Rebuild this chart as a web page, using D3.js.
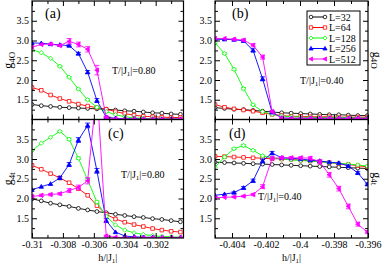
<!DOCTYPE html>
<html><head><meta charset="utf-8">
<script src="https://cdn.jsdelivr.net/npm/d3@7"></script>
<style>body{margin:0;background:#fff}svg{display:block}text{font-family:"Liberation Serif","Times New Roman",serif;fill:#000}</style>
</head><body><svg id="c" width="385" height="264"></svg>
<script>
const seriesNames = ["L=32","L=64","L=128","L=256","L=512"];
const colors = ["#000000","#ff0000","#00ff00","#0000ff","#ff00ff"];
const symbols = ["circle","square","diamond","triUp","triLeft"];

const xLeft = [-0.31,-0.3094,-0.3088,-0.3082,-0.3076,-0.307,-0.3064,-0.3058,-0.3052,-0.3046,-0.304,-0.3034,-0.3028,-0.3022,-0.3016,-0.301,-0.3004];
const xRight = [-0.405,-0.40444,-0.40388,-0.40332,-0.40276,-0.4022,-0.40164,-0.40108,-0.40052,-0.39996,-0.3994,-0.39884,-0.39828,-0.39772,-0.39716,-0.3966,-0.39604];

const yTicks = [1.5,2,2.5,3,3.5];
const yMinor = [1.25,1.75,2.25,2.75,3.25,3.75];
const xTicksLeft = [-0.31,-0.308,-0.306,-0.304,-0.302];
const xMinorLeft = [-0.309,-0.307,-0.305,-0.303,-0.301];
const xTicksRight = [-0.404,-0.402,-0.4,-0.398,-0.396];
const xMinorRight = [-0.405,-0.403,-0.401,-0.399,-0.397];

// panel (a): g4O, T=0.80
const a32  = [1.38,1.35,1.33,1.31,1.30,1.29,1.28,1.27,1.26,1.24,1.22,1.21,1.19,1.17,1.16,1.14,1.13];
const a64  = [1.81,1.74,1.62,1.53,1.46,1.39,1.34,1.30,1.26,1.20,1.15,1.11,1.08,1.07,1.06,1.05,1.05];
const a128 = [2.77,2.69,2.55,2.35,2.07,1.77,1.50,1.31,1.20,1.12,1.07,1.04,1.03,1.02,1.02,1.01,1.01];
const a256 = [2.94,2.93,2.91,2.89,2.87,2.67,2.20,1.48,1.06,1.03,1.02,1.02,1.01,1.01,1.01,1.01,1.01];
const a512 = [2.83,2.90,2.91,2.87,2.98,2.90,2.78,2.25,1.05,1.02,1.01,1.01,1.01,1.01,1.01,1.01,1.01];
const a128err = [0,0,0,0.02,0.02,0.02,0.02,0.02,0,0,0,0,0,0,0,0,0];
const a256err = [0,0,0,0,0.02,0.03,0.04,0.05,0.02,0,0,0,0,0,0,0,0];
const a512err = [0,0,0.02,0.02,0.07,0.06,0.07,0.12,0.02,0,0,0,0,0,0,0,0];

// panel (b): g4O, T=0.40
const b32  = [1.30,1.28,1.26,1.25,1.23,1.21,1.19,1.17,1.16,1.15,1.14,1.13,1.12,1.12,1.11,1.10,1.10];
const b64  = [1.38,1.31,1.27,1.24,1.21,1.17,1.13,1.10,1.08,1.08,1.07,1.07,1.07,1.06,1.06,1.06,1.06];
const b128 = [2.94,2.67,2.27,1.78,1.37,1.20,1.13,1.09,1.07,1.06,1.05,1.05,1.05,1.05,1.05,1.04,1.04];
const b256 = [3.03,3.03,3.02,2.99,2.75,2.03,1.18,1.04,1.03,1.03,1.03,1.03,1.03,1.03,1.03,1.03,1.03];
const b512 = [3.05,3.05,3.03,3.01,2.88,2.58,1.20,1.04,1.03,1.03,1.03,1.03,1.03,1.03,1.03,1.03,1.03];
const b128err = [0,0.02,0.03,0.03,0.02,0,0,0,0,0,0,0,0,0,0,0,0];
const b256err = [0,0,0,0.02,0.04,0.05,0.03,0,0,0,0,0,0,0,0,0,0];
const b512err = [0,0,0.02,0.03,0.04,0.05,0.03,0,0,0,0,0,0,0,0,0,0];

// panel (c): g4t, T=0.80
const c32  = [1.99,1.94,1.88,1.84,1.80,1.75,1.71,1.67,1.64,1.60,1.57,1.54,1.52,1.49,1.47,1.44,1.41];
const c64  = [2.84,2.74,2.63,2.52,2.40,2.25,2.08,1.82,1.60,1.48,1.40,1.34,1.29,1.24,1.20,1.17,1.15];
const c128 = [3.21,3.40,3.55,3.70,3.50,3.02,2.47,1.91,1.55,1.33,1.20,1.13,1.09,1.06,1.04,1.03,1.02];
const c256 = [2.22,2.30,2.37,2.52,2.86,3.48,3.85,2.70,1.44,1.15,1.05,1.03,1.02,1.02,1.01,1.01,1.01];
const c512 = [2.05,2.08,2.10,2.12,2.20,2.28,2.45,4.80,1.05,1.02,1.01,1.01,1.01,1.01,1.01,1.01,1.01];
const c128err = [0,0,0,0.02,0.03,0.03,0.03,0.03,0.02,0,0,0,0,0,0,0,0];
const c256err = [0,0,0,0.04,0.05,0.06,0.06,0.06,0.05,0,0,0,0,0,0,0,0];
const c512err = [0.03,0.03,0.03,0.03,0.05,0.06,0.08,0.2,0.02,0,0,0,0,0,0,0,0];

// panel (d): g4t, T=0.40
const d32  = [2.92,2.91,2.90,2.89,2.88,2.87,2.86,2.85,2.84,2.83,2.82,2.81,2.80,2.79,2.78,2.77,2.76];
const d64  = [3.07,3.06,3.05,3.04,3.03,3.02,3.01,3.00,2.99,2.97,2.95,2.93,2.91,2.88,2.86,2.83,2.80];
const d128 = [2.79,3.05,3.26,3.34,3.22,3.08,3.03,3.00,2.98,2.96,2.95,2.93,2.91,2.89,2.87,2.85,2.82];
const d256 = [2.08,2.11,2.15,2.27,2.45,2.95,3.15,3.03,3.02,3.00,2.97,2.95,2.92,2.90,2.82,2.65,2.36];
const d512 = [2.02,2.03,2.04,2.06,2.10,2.30,3.02,3.03,3.03,3.03,3.02,2.93,2.60,2.25,1.80,1.35,1.15];
const d128err = [0,0.02,0.02,0.03,0.02,0.02,0,0,0,0,0,0,0,0,0,0,0];
const d256err = [0,0,0.02,0.03,0.04,0.05,0.04,0,0,0,0,0,0,0,0.03,0.03,0.03];
const d512err = [0,0,0.02,0.02,0.03,0.05,0.04,0.03,0.03,0.03,0.04,0.05,0.06,0.06,0.06,0.05,0.04];

const xDomLeft = [-0.31,-0.3002];
const xDomRight = [-0.405,-0.396];
const yDom = [1,4];

const svg = d3.select("#c");
const L = {lx0:32, lx1:183.5, rx0:215, rx1:368, ty0:1, ty1:119.5, by0:119.5, by1:238};

const panels = [
  {id:"a", x:xLeft, xd:xDomLeft, px:[L.lx0,L.lx1], py:[L.ty0,L.ty1], data:[a32,a64,a128,a256,a512], err:[null,null,a128err,a256err,a512err],
   xt:xTicksLeft, xm:xMinorLeft, xlab:false, letter:"(a)", lp:[45,18], temp:"0.80", tp:[112,74], ylab:"4O", side:"left"},
  {id:"b", x:xRight, xd:xDomRight, px:[L.rx0,L.rx1], py:[L.ty0,L.ty1], data:[b32,b64,b128,b256,b512], err:[null,null,b128err,b256err,b512err],
   xt:xTicksRight, xm:xMinorRight, xlab:false, letter:"(b)", lp:[232,18], temp:"0.40", tp:[300,84], ylab:"4O", side:"right"},
  {id:"c", x:xLeft, xd:xDomLeft, px:[L.lx0,L.lx1], py:[L.by0,L.by1], data:[c32,c64,c128,c256,c512], err:[null,null,c128err,c256err,c512err],
   xt:xTicksLeft, xm:xMinorLeft, xlab:true, letter:"(c)", lp:[108,138], temp:"0.80", tp:[121,178], ylab:"4t", side:"left"},
  {id:"d", x:xRight, xd:xDomRight, px:[L.rx0,L.rx1], py:[L.by0,L.by1], data:[d32,d64,d128,d256,d512], err:[null,null,d128err,d256err,d512err],
   xt:xTicksRight, xm:xMinorRight, xlab:true, letter:"(d)", lp:[229,138], temp:"0.40", tp:[258,200], ylab:"4t", side:"right"}
];

function marker(g, type, cx, cy, color, s){
  s = s || 1.9;
  let el;
  if(type==="circle"){
    el = g.append("circle").attr("cx",cx).attr("cy",cy).attr("r",s).attr("fill","#fff");
  } else {
    let pts;
    if(type==="square") pts=[[-s+0.1,-s+0.1],[s-0.1,-s+0.1],[s-0.1,s-0.1],[-s+0.1,s-0.1]];
    else if(type==="diamond") pts=[[0,-s-0.3],[s+0.3,0],[0,s+0.3],[-s-0.3,0]];
    else if(type==="triUp") pts=[[0,-s-0.3],[s+0.3,s-0.3],[-s-0.3,s-0.3]];
    else pts=[[-s-0.3,0],[s-0.3,-s-0.3],[s-0.3,s+0.3]];
    el = g.append("polygon").attr("points",pts.map(p=>[cx+p[0],cy+p[1]].join(",")).join(" "))
      .attr("fill",(type==="triUp"||type==="triLeft")?color:"#fff");
  }
  el.attr("stroke",color).attr("stroke-width",0.8);
}

const fmtX = v => String(+v.toFixed(3));
const fmtY = d3.format(".1f");

panels.forEach((p,pi)=>{
  const x = d3.scaleLinear().domain(p.xd).range(p.px);
  const y = d3.scaleLinear().domain(yDom).range([p.py[1],p.py[0]]);
  const clipId = "clip"+p.id;
  svg.append("clipPath").attr("id",clipId).append("rect")
    .attr("x",p.px[0]).attr("y",p.py[0]).attr("width",p.px[1]-p.px[0]).attr("height",p.py[1]-p.py[0]);
  const g = svg.append("g").attr("clip-path","url(#"+clipId+")");
  const line = d3.line().x((d,i)=>x(p.x[i])).y(d=>y(d));
  p.data.forEach((arr,si)=>{
    g.append("path").attr("d",line(arr)).attr("fill","none").attr("stroke",colors[si]).attr("stroke-width",0.9);
    const e = p.err[si];
    if(e){
      arr.forEach((v,i)=>{
        if(e[i]>0){
          const xx=x(p.x[i]), y0=y(v-e[i]), y1=y(v+e[i]);
          g.append("line").attr("x1",xx).attr("x2",xx).attr("y1",y0).attr("y2",y1).attr("stroke",colors[si]).attr("stroke-width",0.8);
          [y0,y1].forEach(yy=>g.append("line").attr("x1",xx-2.5).attr("x2",xx+2.5).attr("y1",yy).attr("y2",yy).attr("stroke",colors[si]).attr("stroke-width",0.8));
        }
      });
    }
    arr.forEach((v,i)=>marker(g,symbols[si],x(p.x[i]),y(v),colors[si]));
  });

  // axes
  const ax = svg.append("g");
  const mk = (gen, tr)=>{ const a = ax.append("g").attr("transform",tr).call(gen); a.select(".domain").remove(); a.selectAll("text").attr("font-size",10).attr("font-family","Liberation Serif, serif"); a.selectAll("line").attr("stroke","#000"); return a; };
  mk(d3.axisLeft(y).tickValues(yTicks).tickSize(-5).tickPadding(3).tickFormat(fmtY), `translate(${p.px[0]},0)`);
  mk(d3.axisLeft(y).tickValues(yMinor).tickSize(-3).tickFormat(""), `translate(${p.px[0]},0)`);
  mk(d3.axisRight(y).tickValues(yTicks).tickSize(-5).tickFormat(""), `translate(${p.px[1]},0)`);
  mk(d3.axisRight(y).tickValues(yMinor).tickSize(-3).tickFormat(""), `translate(${p.px[1]},0)`);
  mk(d3.axisBottom(x).tickValues(p.xt).tickSize(-5).tickPadding(3).tickFormat(p.xlab?fmtX:""), `translate(0,${p.py[1]})`);
  mk(d3.axisBottom(x).tickValues(p.xm).tickSize(-3).tickFormat(""), `translate(0,${p.py[1]})`);
  mk(d3.axisTop(x).tickValues(p.xt).tickSize(-5).tickFormat(""), `translate(0,${p.py[0]})`);
  mk(d3.axisTop(x).tickValues(p.xm).tickSize(-3).tickFormat(""), `translate(0,${p.py[0]})`);
  svg.append("rect").attr("x",p.px[0]).attr("y",p.py[0]).attr("width",p.px[1]-p.px[0]).attr("height",p.py[1]-p.py[0])
    .attr("fill","none").attr("stroke","#000").attr("stroke-width",1.2);

  // letter
  svg.append("text").attr("x",p.lp[0]).attr("y",p.lp[1]).attr("font-size",14).text(p.letter);
  // temperature
  const t = svg.append("text").attr("x",p.tp[0]).attr("y",p.tp[1]).attr("font-size",10);
  t.append("tspan").text("T/|J");
  t.append("tspan").attr("font-size",7).attr("dy",2).text("1");
  t.append("tspan").attr("dy",-2).text("|="+p.temp);
  // y label
  const yc = (p.py[0]+p.py[1])/2;
  const lx = p.side==="left" ? 12 : 373;
  const rot = p.side==="left" ? -90 : 90;
  const yl = svg.append("text").attr("transform",`translate(${lx},${yc}) rotate(${rot})`).attr("text-anchor","middle").attr("font-size",12);
  yl.append("tspan").text("g");
  yl.append("tspan").attr("font-size",9).attr("dy",2.5).text(p.ylab);
  // x label
  if(p.xlab){
    const xl = svg.append("text").attr("x",(p.px[0]+p.px[1])/2).attr("y",261).attr("text-anchor","middle").attr("font-size",10);
    xl.append("tspan").text("h/|J");
    xl.append("tspan").attr("font-size",7).attr("dy",2).text("1");
    xl.append("tspan").attr("dy",-2).text("|");
  }
});

// legend in panel (b)
const lg = svg.append("g");
lg.append("rect").attr("x",307).attr("y",11).attr("width",53).attr("height",54).attr("fill","#fff").attr("stroke","#000").attr("stroke-width",1);
seriesNames.forEach((n,i)=>{
  const yy = 17 + i*10.5;
  lg.append("line").attr("x1",311).attr("x2",325).attr("y1",yy).attr("y2",yy).attr("stroke",colors[i]).attr("stroke-width",1);
  marker(lg,symbols[i],311,yy,colors[i],1.8);
  marker(lg,symbols[i],325,yy,colors[i],1.8);
  lg.append("text").attr("x",329).attr("y",yy+3.5).attr("font-size",10).text(n);
});
</script></body></html>
